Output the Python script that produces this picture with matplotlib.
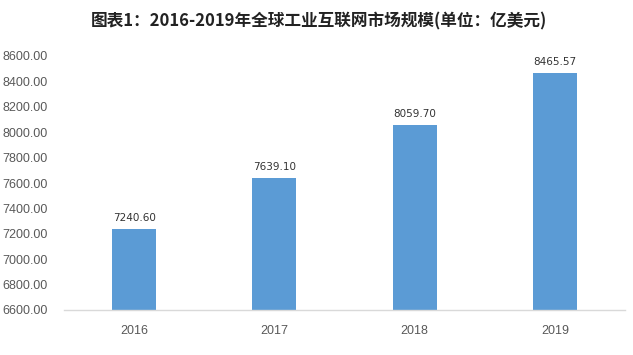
import matplotlib
from matplotlib import pyplot as plt

plt.rcParams['font.family'] = ['Noto Sans CJK SC', 'DejaVu Sans']

years = ['2016', '2017', '2018', '2019']
values = [7240.60, 7639.10, 8059.70, 8465.57]
value_labels = ['7240.60', '7639.10', '8059.70', '8465.57']
yticks = [6600, 6800, 7000, 7200, 7400, 7600, 7800, 8000, 8200, 8400, 8600]

fig = plt.figure(figsize=(6.33, 3.55), dpi=100)
ax = fig.add_axes([64/633, 45/355, 561/633, 254/355])

x = range(len(years))
ax.bar(x, values, width=0.314, color='#5B9BD5', zorder=2)
for i, v in enumerate(values):
    ax.text(i, v + 45, value_labels[i], ha='center', va='bottom',
            fontsize=7.5, color='#333333', family='DejaVu Sans', clip_on=False)

ax.set_xlim(-0.5, 3.5)
ax.set_ylim(6600, 8600)
ax.set_yticks(yticks)
ax.set_yticklabels(['%.2f' % t for t in yticks], fontsize=9, color='#595959',
                   family='Liberation Sans')
ax.set_xticks(list(x))
ax.set_xticklabels(years, fontsize=9, color='#595959', family='Liberation Sans')
ax.tick_params(axis='x', length=0, pad=11)
ax.tick_params(axis='y', length=0, pad=12)

for s in ['top', 'right', 'left']:
    ax.spines[s].set_visible(False)
ax.spines['bottom'].set_color('#D9D9D9')
ax.spines['bottom'].set_linewidth(1)

fig.text(319/633, 1 - 21/355, '图表1：2016-2019年全球工业互联网市场规模(单位：亿美元)',
         ha='center', va='center', fontsize=12, fontweight='bold', color='#222222')

fig.savefig('out.png', dpi=100)
